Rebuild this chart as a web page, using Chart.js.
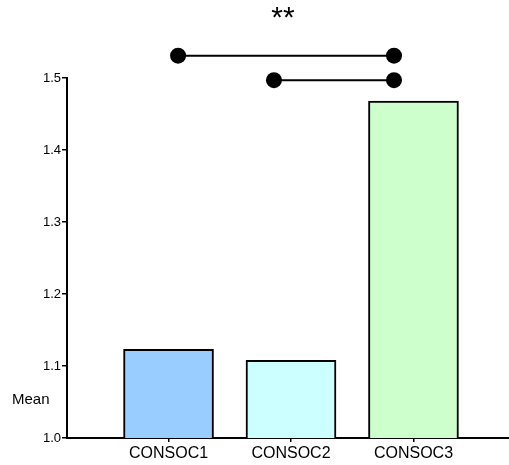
<!DOCTYPE html>
<html>
<head>
<meta charset="utf-8">
<script src="https://cdn.jsdelivr.net/npm/chart.js@4.4.1/dist/chart.umd.min.js"></script>
<style>
  html, body { margin: 0; padding: 0; background: #fff; }
  #wrap { width: 509px; height: 465px; position: relative; }
</style>
</head>
<body>
<div id="wrap"><canvas id="chart"></canvas></div>
<script>
// Dados
const categories = ['CONSOC1', 'CONSOC2', 'CONSOC3'];
const categoryPos = [1, 2, 3];
const means = [1.123, 1.108, 1.468];
const barColors = ['#99ccff', '#ccffff', '#ccffcc'];

// Barras de significância (posição em unidades do eixo x)
const bracketStart = [1.078, 1.861];
const bracketEnd = [2.841, 2.841];
const bracketLevel = [1.531, 1.497];
const sigText = '**';
const sigPos = { x: 1.935, y: 1.59 };

const yTicks = [1.0, 1.1, 1.2, 1.3, 1.4, 1.5];
const yTitle = 'Mean';

const FONT = 'Liberation Sans, Arial, sans-serif';

// Texto extra e pontos das barras de significância (fora da área do gráfico)
const extraText = {
    id: 'extraText',
    afterDraw(chart) {
        const ctx = chart.ctx;
        const x = chart.scales.x, y = chart.scales.y;
        ctx.save();
        ctx.fillStyle = '#000';
        bracketStart.forEach((s, i) => {
            [s, bracketEnd[i]].forEach(v => {
                ctx.beginPath();
                ctx.arc(x.getPixelForValue(v), y.getPixelForValue(bracketLevel[i]), 8, 0, Math.PI * 2);
                ctx.fill();
            });
        });
        ctx.font = '15px ' + FONT;
        ctx.textAlign = 'left';
        ctx.textBaseline = 'middle';
        ctx.fillText(yTitle, 12, y.getPixelForValue(1.053));
        ctx.font = '30px ' + FONT;
        ctx.textAlign = 'center';
        ctx.fillText(sigText, x.getPixelForValue(sigPos.x), y.getPixelForValue(sigPos.y) + 6);
        ctx.restore();
    }
};

const bracketSets = bracketStart.map((s, i) => ({
    type: 'line',
    data: [{ x: s, y: bracketLevel[i] }, { x: bracketEnd[i], y: bracketLevel[i] }],
    borderColor: '#000',
    borderWidth: 2,
    pointRadius: 0,
    clip: false
}));

new Chart(document.getElementById('chart'), {
    type: 'bar',
    data: {
        datasets: [{
            data: categoryPos.map((p, i) => ({ x: p, y: means[i] })),
            backgroundColor: barColors,
            borderColor: '#000',
            borderWidth: 2,
            borderSkipped: false,
            barThickness: 90
        }, ...bracketSets]
    },
    options: {
        responsive: true,
        maintainAspectRatio: false,
        animation: false,
        layout: { padding: { top: 78, right: 0, left: 0, bottom: 0 } },
        plugins: {
            legend: { display: false },
            tooltip: { enabled: false }
        },
        scales: {
            x: {
                type: 'linear',
                offset: false,
                min: 0.171,
                max: 3.78,
                afterBuildTicks: s => { s.ticks = categoryPos.map(v => ({ value: v })); },
                afterFit: s => { s.height = 27; s.paddingRight = 0; },
                border: { color: '#000', width: 2 },
                grid: { offset: false, drawOnChartArea: false, color: '#000', tickLength: 4, lineWidth: 1.5 },
                ticks: {
                    color: '#000',
                    font: { family: FONT, size: 16 },
                    padding: 2,
                    maxRotation: 0,
                    callback: v => categories[categoryPos.indexOf(v)] || ''
                }
            },
            y: {
                min: 1.0,
                max: 1.5,
                afterBuildTicks: s => { s.ticks = yTicks.map(v => ({ value: v })); },
                afterFit: s => { s.width = 67; },
                border: { color: '#000', width: 2 },
                grid: { drawOnChartArea: false, color: '#000', tickLength: 5, lineWidth: 1.5 },
                ticks: {
                    color: '#000',
                    font: { family: FONT, size: 13 },
                    padding: 1,
                    callback: v => v.toFixed(1)
                }
            }
        }
    },
    plugins: [extraText]
});
</script>
</body>
</html>
